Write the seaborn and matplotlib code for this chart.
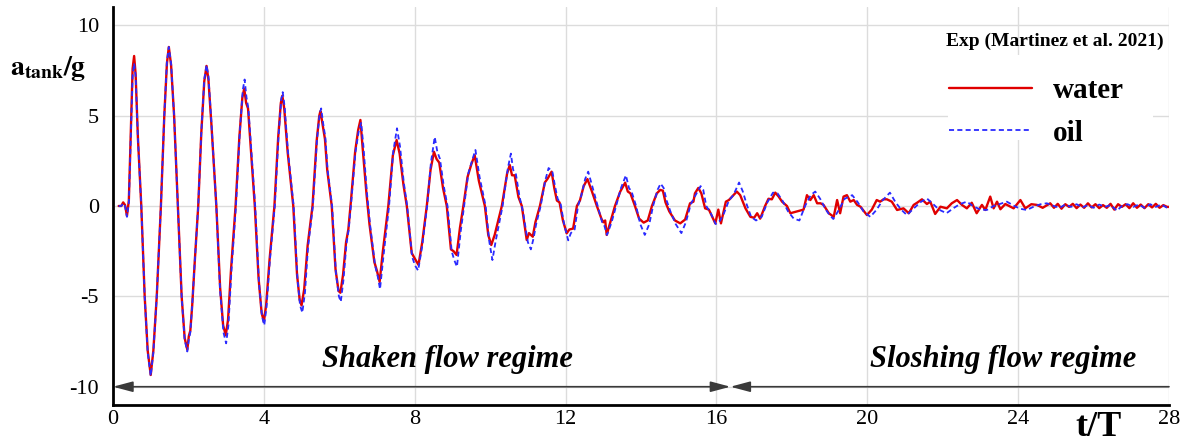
import matplotlib
matplotlib.use("Agg")
import matplotlib.pyplot as plt
from matplotlib.ticker import MultipleLocator
from matplotlib.patches import Rectangle
import seaborn as sns
import pandas as pd

# ---------------- data: (t/T, a_tank/g) ----------------
water_points = [
    (0.15, 0.0), (0.22, 0.0), (0.27, 0.2), (0.32, 0.05), (0.37, -0.55), (0.42, 0.3), (0.47, 4.0), (0.52, 7.6),
    (0.56, 8.3), (0.60, 7.3), (0.66, 3.8), (0.75, 0.0), (0.84, -5.0), (0.92, -8.0), (1.00, -9.35), (1.07, -8.0),
    (1.16, -5.0), (1.27, 0.0), (1.36, 5.0), (1.43, 7.9), (1.48, 8.8), (1.54, 7.8), (1.62, 5.0), (1.72, 0.0),
    (1.82, -5.0), (1.90, -7.3), (1.97, -7.95), (2.01, -7.2), (2.05, -6.9), (2.10, -5.5), (2.17, -3.0), (2.26, 0.0),
    (2.34, 4.0), (2.42, 6.9), (2.48, 7.75), (2.53, 7.0), (2.61, 4.5), (2.74, 0.0), (2.84, -4.5), (2.92, -6.6),
    (2.99, -7.15), (3.05, -6.3), (3.13, -3.5), (3.25, 0.0), (3.35, 3.8), (3.43, 6.0), (3.48, 6.5), (3.53, 5.7),
    (3.58, 5.4), (3.65, 3.3), (3.76, 0.0), (3.86, -4.0), (3.94, -5.9), (4.00, -6.4), (4.06, -5.5), (4.15, -3.0),
    (4.28, 0.0), (4.38, 3.8), (4.45, 5.7), (4.49, 6.1), (4.54, 5.4), (4.63, 3.0), (4.78, 0.0), (4.88, -3.8),
    (4.95, -5.2), (5.00, -5.5), (5.07, -4.6), (5.16, -2.2), (5.29, 0.0), (5.40, 3.6), (5.47, 5.0), (5.50, 5.25),
    (5.55, 4.6), (5.62, 3.7), (5.68, 2.0), (5.80, 0.0), (5.90, -3.5), (5.98, -4.7), (6.03, -4.8), (6.10, -3.8),
    (6.18, -2.0), (6.24, -1.3), (6.31, 0.3), (6.42, 3.0), (6.50, 4.2), (6.56, 4.76), (6.62, 3.2), (6.72, 0.7),
    (6.80, -1.0), (6.93, -3.1), (7.00, -3.6), (7.07, -4.2), (7.15, -2.6), (7.30, 0.0), (7.42, 2.8), (7.52, 3.65),
    (7.60, 2.9), (7.70, 1.2), (7.79, 0.0), (7.92, -2.6), (8.00, -2.9), (8.10, -3.26), (8.20, -2.0), (8.32, 0.0),
    (8.42, 2.0), (8.51, 3.0), (8.58, 2.6), (8.65, 2.4), (8.75, 1.0), (8.85, 0.0), (8.96, -2.4), (9.03, -2.5),
    (9.11, -2.71), (9.20, -1.2), (9.29, 0.0), (9.40, 1.6), (9.50, 2.3), (9.59, 2.82), (9.70, 1.4), (9.86, 0.0),
    (9.95, -1.6), (10.03, -2.16), (10.12, -1.6), (10.31, 0.0), (10.45, 1.8), (10.52, 2.27), (10.58, 1.7),
    (10.65, 1.7), (10.75, 0.5), (10.84, 0.0), (10.97, -1.88), (11.03, -1.5), (11.08, -1.6), (11.13, -1.7),
    (11.20, -0.9), (11.32, 0.0), (11.45, 1.3), (11.52, 1.5), (11.63, 1.9), (11.70, 1.0), (11.77, 0.3),
    (11.84, 0.2), (11.93, -0.8), (12.03, -1.51), (12.10, -1.3), (12.20, -1.25), (12.30, 0.0), (12.38, 0.3),
    (12.48, 1.1), (12.58, 1.49), (12.70, 0.8), (12.83, 0.0), (12.95, -0.7), (13.00, -0.9), (13.05, -0.8),
    (13.09, -1.6), (13.20, -0.8), (13.31, 0.0), (13.45, 0.8), (13.58, 1.29), (13.65, 0.8), (13.72, 0.7),
    (13.84, 0.0), (13.95, -0.7), (14.07, -0.92), (14.18, -0.8), (14.29, 0.0), (14.42, 0.7), (14.51, 0.89),
    (14.58, 0.85), (14.65, 0.2), (14.75, -0.3), (14.90, -0.8), (15.04, -0.96), (15.17, -0.75), (15.30, 0.15),
    (15.39, 0.24), (15.43, 0.7), (15.52, 1.0), (15.60, 0.7), (15.70, -0.13), (15.80, -0.2), (15.97, -0.96),
    (16.05, -0.2), (16.12, -0.96), (16.25, 0.24), (16.33, 0.33), (16.54, 0.8), (16.63, 0.6), (16.77, -0.13),
    (16.90, -0.6), (17.00, -0.65), (17.08, -0.4), (17.16, -0.7), (17.29, 0.0), (17.38, 0.4), (17.47, 0.37),
    (17.56, 0.74), (17.65, 0.52), (17.74, 0.24), (17.87, 0.0), (17.96, -0.4), (18.14, -0.3), (18.31, -0.2),
    (18.40, 0.6), (18.49, 0.33), (18.58, 0.6), (18.67, 0.15), (18.76, 0.15), (18.84, 0.06), (18.98, -0.4),
    (19.11, -0.6), (19.20, 0.33), (19.28, -0.4), (19.37, 0.52), (19.46, 0.6), (19.55, 0.24), (19.64, 0.33),
    (19.73, 0.06), (19.82, -0.04), (19.99, -0.5), (20.12, -0.2), (20.25, 0.33), (20.34, 0.24), (20.43, 0.37),
    (20.52, 0.37), (20.65, 0.24), (20.79, -0.22), (20.96, -0.13), (21.10, -0.4), (21.23, 0.06), (21.32, 0.18),
    (21.45, 0.37), (21.58, 0.11), (21.67, 0.24), (21.80, -0.44), (21.94, -0.04), (22.11, -0.13), (22.24, 0.15),
    (22.38, 0.33), (22.51, 0.06), (22.64, -0.13), (22.77, 0.18), (22.90, -0.4), (23.04, 0.06), (23.13, -0.22),
    (23.26, 0.52), (23.35, -0.13), (23.44, 0.24), (23.53, -0.18), (23.66, 0.11), (23.88, -0.13), (24.06, 0.33),
    (24.19, -0.13), (24.35, 0.1), (24.50, 0.06), (24.65, -0.1), (24.85, 0.15), (24.95, -0.1), (25.05, 0.12),
    (25.15, -0.15), (25.25, 0.1), (25.35, -0.05), (25.45, 0.12), (25.55, -0.12), (25.65, 0.08), (25.75, -0.1),
    (25.85, 0.15), (25.95, -0.08), (26.05, 0.1), (26.15, -0.12), (26.25, 0.05), (26.35, -0.1), (26.45, 0.12),
    (26.55, -0.2), (26.65, 0.1), (26.75, -0.05), (26.85, 0.1), (26.95, -0.12), (27.05, 0.15), (27.15, -0.1),
    (27.25, 0.08), (27.35, -0.12), (27.45, 0.1), (27.55, -0.08), (27.65, 0.12), (27.75, -0.1), (27.85, 0.05),
    (27.95, -0.05), (28.00, -0.05),
]

oil_points = [
    (0.15, 0.0), (0.22, 0.0), (0.27, 0.15), (0.32, 0.0), (0.37, -0.6), (0.42, 0.2), (0.47, 3.6), (0.52, 7.2),
    (0.56, 7.9), (0.60, 7.2), (0.66, 3.8), (0.75, 0.0), (0.84, -5.0), (0.92, -8.1), (1.00, -9.4), (1.07, -8.1),
    (1.16, -5.0), (1.27, 0.0), (1.36, 5.0), (1.43, 8.0), (1.48, 8.8), (1.54, 7.9), (1.62, 5.0), (1.72, 0.0),
    (1.82, -5.0), (1.90, -7.4), (1.97, -8.05), (2.01, -7.4), (2.05, -7.0), (2.10, -5.5), (2.17, -3.0), (2.26, 0.0),
    (2.34, 4.0), (2.42, 7.0), (2.48, 7.8), (2.53, 7.2), (2.61, 4.6), (2.74, 0.0), (2.84, -4.7), (2.93, -7.0),
    (3.00, -7.6), (3.06, -6.6), (3.14, -3.6), (3.26, 0.0), (3.36, 4.0), (3.44, 6.4), (3.49, 7.0), (3.54, 6.0),
    (3.59, 5.4), (3.66, 3.3), (3.77, 0.0), (3.87, -4.2), (3.95, -6.1), (4.01, -6.6), (4.07, -5.6), (4.16, -3.0),
    (4.29, 0.0), (4.39, 3.9), (4.46, 5.9), (4.50, 6.3), (4.55, 5.5), (4.64, 3.0), (4.79, 0.0), (4.89, -4.0),
    (4.96, -5.5), (5.02, -5.9), (5.09, -4.8), (5.17, -2.3), (5.30, 0.0), (5.41, 3.7), (5.48, 5.1), (5.52, 5.4),
    (5.57, 4.6), (5.63, 3.8), (5.69, 2.0), (5.81, 0.0), (5.91, -3.7), (5.99, -5.0), (6.04, -5.3), (6.11, -4.1),
    (6.19, -2.1), (6.25, -1.3), (6.32, 0.3), (6.43, 3.0), (6.52, 4.2), (6.58, 4.6), (6.64, 3.3), (6.73, 0.8),
    (6.82, -1.1), (6.95, -3.3), (7.02, -3.9), (7.08, -4.6), (7.17, -2.8), (7.32, 0.0), (7.43, 3.0), (7.53, 4.3),
    (7.61, 3.3), (7.71, 1.3), (7.80, 0.0), (7.93, -2.8), (8.01, -3.3), (8.09, -3.57), (8.20, -2.2), (8.33, 0.0),
    (8.43, 2.4), (8.53, 3.82), (8.60, 3.0), (8.67, 2.6), (8.77, 1.1), (8.87, 0.0), (8.98, -2.5), (9.05, -3.0),
    (9.12, -3.36), (9.22, -1.4), (9.31, 0.0), (9.42, 1.8), (9.52, 2.5), (9.61, 3.1), (9.72, 1.6), (9.88, 0.0),
    (9.98, -2.0), (10.06, -2.99), (10.15, -1.9), (10.33, 0.0), (10.47, 2.1), (10.55, 2.9), (10.61, 2.0),
    (10.68, 1.8), (10.78, 0.5), (10.87, -0.3), (11.00, -2.0), (11.08, -2.4), (11.15, -1.8), (11.22, -1.0),
    (11.34, 0.0), (11.46, 1.4), (11.55, 2.1), (11.65, 1.9), (11.72, 1.1), (11.79, 0.4), (11.87, 0.1),
    (11.96, -1.0), (12.07, -1.9), (12.14, -1.5), (12.24, -1.3), (12.33, 0.0), (12.42, 0.6), (12.52, 1.5),
    (12.60, 1.9), (12.72, 1.0), (12.85, 0.0), (12.97, -0.9), (13.03, -1.1), (13.10, -1.6), (13.22, -0.9),
    (13.34, 0.0), (13.47, 1.0), (13.60, 1.7), (13.68, 1.0), (13.75, 0.8), (13.87, 0.0), (13.98, -1.0),
    (14.10, -1.6), (14.22, -1.0), (14.32, 0.0), (14.44, 0.9), (14.52, 1.24), (14.60, 1.0), (14.68, 0.3),
    (14.78, -0.3), (14.92, -1.0), (15.07, -1.5), (15.19, -0.9), (15.32, 0.1), (15.42, 0.5), (15.50, 0.8),
    (15.58, 1.1), (15.65, 0.9), (15.73, 0.0), (15.85, -0.4), (15.98, -1.0), (16.10, -0.8), (16.20, -0.4),
    (16.33, 0.3), (16.45, 0.6), (16.60, 1.3), (16.70, 0.8), (16.80, 0.1), (16.92, -0.6), (17.05, -0.8),
    (17.20, -0.6), (17.35, 0.2), (17.50, 0.74), (17.62, 0.7), (17.75, 0.3), (17.90, -0.3), (18.05, -0.7),
    (18.20, -0.8), (18.35, 0.0), (18.50, 0.6), (18.62, 0.8), (18.75, 0.4), (18.90, -0.2), (19.00, -0.5),
    (19.10, -0.72), (19.25, -0.2), (19.40, 0.4), (19.60, 0.6), (19.75, 0.2), (19.90, -0.3), (20.08, -0.6),
    (20.25, -0.2), (20.40, 0.3), (20.60, 0.74), (20.75, 0.2), (20.90, -0.2), (21.05, -0.5), (21.20, -0.2),
    (21.40, 0.2), (21.58, 0.42), (21.75, 0.1), (21.90, -0.2), (22.10, -0.4), (22.30, -0.1), (22.45, 0.1),
    (22.64, 0.24), (22.80, 0.0), (23.00, -0.2), (23.17, -0.22), (23.35, 0.0), (23.50, 0.1), (23.70, 0.24),
    (23.90, 0.0), (24.05, -0.15), (24.23, -0.22), (24.45, 0.0), (24.60, 0.1), (24.76, 0.15), (24.95, 0.0),
    (25.10, -0.1), (25.25, 0.08), (25.40, -0.05), (25.55, 0.1), (25.70, -0.08), (25.85, 0.05), (26.00, -0.1),
    (26.15, 0.08), (26.30, -0.05), (26.45, 0.05), (26.62, -0.26), (26.75, 0.0), (26.90, 0.1), (27.05, -0.05),
    (27.20, 0.08), (27.35, -0.1), (27.50, 0.1), (27.65, -0.05), (27.80, 0.08), (27.95, -0.1), (28.00, -0.05),
]

x_ticks = [0, 4, 8, 12, 16, 20, 24, 28]
y_ticks = [-10, -5, 0, 5, 10]
series_labels = ["water", "oil"]
legend_title = "Exp (Martinez et al. 2021)"
regime_labels = ["Shaken flow regime", "Sloshing flow regime"]
regime_boundary = 16.37

# ---------------- style ----------------
sns.set_style("white")
plt.rcParams["font.family"] = ["Liberation Serif", "DejaVu Serif"]
plt.rcParams["axes.unicode_minus"] = False
plt.rcParams["mathtext.fontset"] = "stix"
for k in ["text.color", "axes.labelcolor", "xtick.color", "ytick.color"]:
    plt.rcParams[k] = "black"

W, H = 1188, 447
fig = plt.figure(figsize=(W / 100, H / 100), dpi=100)
AX_L, AX_R, AX_T, AX_B = 113, 1169, 7.2, 404.8
ax = fig.add_axes([AX_L / W, (H - AX_B) / H, (AX_R - AX_L) / W, (AX_B - AX_T) / H])


def ax_xy(px, py):
    """pixel position (from top-left) -> axes fraction"""
    return (px - AX_L) / (AX_R - AX_L), (AX_B - py) / (AX_B - AX_T)


df_w = pd.DataFrame(water_points, columns=["t", "a"])
df_o = pd.DataFrame(oil_points, columns=["t", "a"])

sns.lineplot(data=df_w, x="t", y="a", ax=ax, color="#e00000", lw=1.7,
             label=series_labels[0], estimator=None, sort=False, zorder=3)
sns.lineplot(data=df_o, x="t", y="a", ax=ax, color="#2a2aff", lw=1.3,
             linestyle=(0, (2.8, 1.8)), label=series_labels[1], estimator=None, sort=False, zorder=4)

ax.set_xlim(0, 28)
ax.set_ylim(-11, 11)
ax.set_xticks(x_ticks)
ax.set_yticks(y_ticks)
ax.xaxis.set_minor_locator(MultipleLocator(0.8))
ax.yaxis.set_minor_locator(MultipleLocator(1))
ax.set_xlabel("")
ax.set_ylabel("")

ax.grid(True, which="major", color="#dcdcdc", lw=1)
ax.set_axisbelow(True)
for s in ["top", "right"]:
    ax.spines[s].set_visible(False)
for s in ["left", "bottom"]:
    ax.spines[s].set_linewidth(2)
    ax.spines[s].set_color("black")

ax.tick_params(which="major", direction="in", length=8, width=2, color="black", labelsize=16,
               labelcolor="black")
ax.tick_params(which="minor", direction="in", length=5, width=1, color="#777777")
ax.tick_params(axis="y", which="major", pad=10)
ax.tick_params(axis="x", which="major", pad=4)

# regime arrows
ax.annotate("", xy=(0, -10), xytext=(regime_boundary, -10),
            arrowprops=dict(arrowstyle="<|-|>,head_length=1.2,head_width=0.32", color="#3a3a3a",
                            lw=1.2, shrinkA=0, shrinkB=0), zorder=5)
ax.annotate("", xy=(regime_boundary, -10), xytext=(28, -10),
            arrowprops=dict(arrowstyle="-|>,head_length=1.2,head_width=0.32", color="#3a3a3a",
                            lw=1.2, shrinkA=0, shrinkB=0), zorder=5)

ax.text(8.87, -8.9, regime_labels[0], ha="center", va="baseline", fontsize=22,
        fontstyle="italic", fontweight="bold", color="black")
ax.text(23.6, -8.9, regime_labels[1], ha="center", va="baseline", fontsize=22,
        fontstyle="italic", fontweight="bold", color="black")

# legend: white panel behind the entries, title text, entries
x0, y0 = ax_xy(948, 140)
x1, y1 = ax_xy(1153, 55)
ax.add_patch(Rectangle((x0, y0), x1 - x0, y1 - y0, transform=ax.transAxes, facecolor="white",
                       edgecolor="none", zorder=2))
tx, ty = ax_xy(1055, 41.5)
ax.text(tx, ty, legend_title, transform=ax.transAxes, ha="center", va="center", fontsize=14,
        fontweight="bold", color="black", zorder=6)
lx, ly = ax_xy(943, 112)
leg = ax.legend(loc="center left", bbox_to_anchor=(lx, ly), frameon=False,
                prop=dict(family="Liberation Serif", weight="bold", size=21),
                handlelength=2.84, handletextpad=0.72, labelspacing=0.52, borderpad=0.2,
                borderaxespad=0)
for t in leg.get_texts():
    t.set_color("black")
leg.set_zorder(6)

# axis labels
fig.text(10 / W, (H - 75) / H, r"$\mathbf{a}_{\mathbf{tank}}\mathbf{/g}$", fontsize=20,
         ha="left", va="baseline", color="black")
fig.text(1075 / W, (H - 436) / H, "t/T", fontsize=26, fontweight="bold", ha="left", va="baseline",
         color="black")

fig.savefig("out.png", dpi=100)
